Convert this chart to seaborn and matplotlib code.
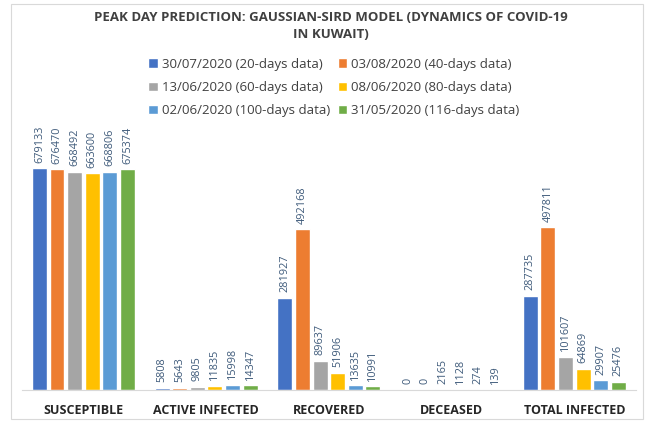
import pandas as pd
import matplotlib.pyplot as plt
import seaborn as sns

categories = ["SUSCEPTIBLE", "ACTIVE INFECTED", "RECOVERED", "DECEASED", "TOTAL INFECTED"]
series = ["30/07/2020 (20-days data)", "03/08/2020 (40-days data)",
          "13/06/2020 (60-days data)", "08/06/2020 (80-days data)",
          "02/06/2020 (100-days data)", "31/05/2020 (116-days data)"]
d20 = [679133, 5808, 281927, 0, 287735]
d40 = [676470, 5643, 492168, 0, 497811]
d60 = [668492, 9805, 89637, 2165, 101607]
d80 = [663600, 11835, 51906, 1128, 64869]
d100 = [668806, 15998, 13635, 274, 29907]
d116 = [675374, 14347, 10991, 139, 25476]
colors = ["#4472C4", "#ED7D31", "#A5A5A5", "#FFC000", "#5B9BD5", "#70AD47"]

rows = []
for s, vals in zip(series, [d20, d40, d60, d80, d100, d116]):
    for c, v in zip(categories, vals):
        rows.append({"cat": c, "series": s, "value": v})
df = pd.DataFrame(rows)

sns.set_style("white")
plt.rcParams['font.family'] = ['Open Sans', 'DejaVu Sans']

fig = plt.figure(figsize=(6.48, 4.21), dpi=100)
ax = fig.add_axes([0.034, 0.074, 0.947, 0.62])
sns.barplot(data=df, x="cat", y="value", hue="series", palette=colors,
            width=0.86, gap=0.15, ax=ax, saturation=1)

for cont in ax.containers:
    ax.bar_label(cont, labels=[f"{int(v)}" for v in cont.datavalues],
                 rotation=90, padding=4, fontsize=7.8, color="#3E5A7A")

ax.set_ylim(0, 800000)
ax.set_xlim(-0.5, 4.5)
ax.set_xlabel("")
ax.set_ylabel("")
ax.set_yticks([])
for sp in ["left", "right", "top"]:
    ax.spines[sp].set_visible(False)
ax.spines["bottom"].set_color("#D9D9D9")
ax.tick_params(axis="x", length=0, pad=10)
for t in ax.get_xticklabels():
    t.set_fontweight("bold")
    t.set_fontsize(9)
    t.set_color("#262626")

h, l = ax.get_legend_handles_labels()
ax.get_legend().remove()
order = [0, 2, 4, 1, 3, 5]
fig.legend([h[i] for i in order], [l[i] for i in order], ncol=2,
           loc="upper center", bbox_to_anchor=(0.515, 0.885), frameon=False,
           fontsize=9.5, handlelength=0.7, handleheight=0.7, handletextpad=0.3,
           columnspacing=0.6, labelspacing=0.78, labelcolor="#404040",
           borderpad=0.2)

fig.text(0.51, 0.975, "PEAK DAY PREDICTION: GAUSSIAN-SIRD MODEL (DYNAMICS OF COVID-19\nIN KUWAIT)",
         ha="center", va="top", fontsize=9.5, fontweight="bold", color="#404040",
         linespacing=1.45)

fig.patches.append(plt.Rectangle((0.017, 0.005), 0.975, 0.985, transform=fig.transFigure,
                                 fill=False, edgecolor="#D9D9D9", lw=0.8))

fig.savefig("out.png", dpi=100)
